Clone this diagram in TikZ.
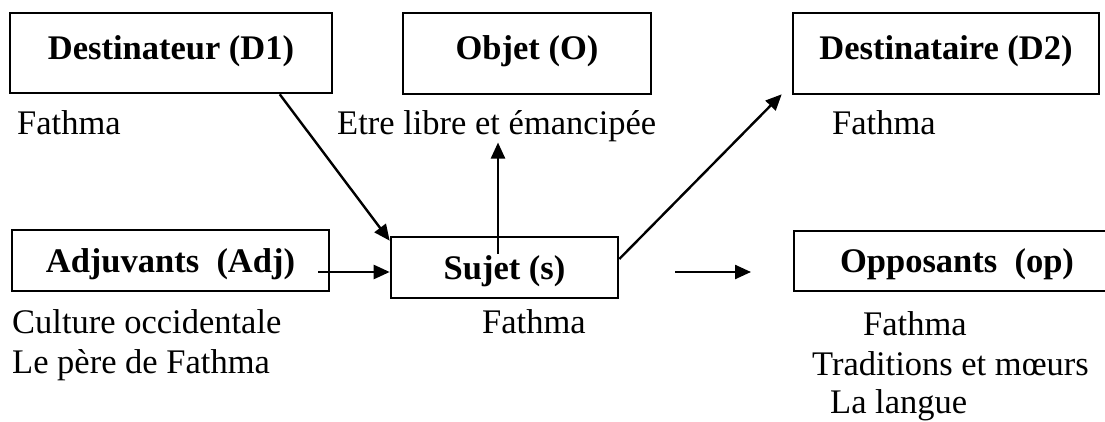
\documentclass[tikz,border=0pt]{standalone}
\usepackage{fontspec}
\setmainfont{Liberation Serif}
\usetikzlibrary{arrows.meta,calc}

\newcommand{\bodysize}{\fontsize{34.5}{40}\selectfont}

\tikzset{
  actant/.style={draw, line width=2.6pt, rectangle, inner sep=0pt,
    font=\bodysize\bfseries, text height=23pt},
  topbox/.style={actant, text depth=10pt},
  lowbox/.style={actant, text depth=0pt},
  caption/.style={inner sep=0pt, anchor=base west, font=\bodysize},
  link/.style={line width=2.4pt, -{Triangle[length=16pt,width=14pt]}}
}

\begin{document}
\begin{tikzpicture}[x=1pt, y=-1pt]
  \useasboundingbox (0,0) rectangle (1105,422);

  % actant boxes
  \node[topbox, minimum width=322pt, minimum height=80pt] (D1) at (171,53) {Destinateur (D1)};
  \node[topbox, minimum width=248pt, minimum height=81pt] (O)  at (527,53.5) {Objet (O)};
  \node[topbox, minimum width=306pt, minimum height=81pt] (D2) at (946,53.5) {Destinataire (D2)};
  \node[lowbox, minimum width=317pt, minimum height=61pt] (Adj) at (170.5,260.5) {Adjuvants\ \ (Adj)};
  \node[lowbox, minimum width=227pt, minimum height=61pt] (S)  at (504.5,267.5) {Sujet (s)};
  \node[lowbox, minimum width=326pt, minimum height=60pt] (Op) at (957,261) {Opposants\ \ (op)};

  % captions under the boxes
  \node[caption] (d1txt)  at (17,135)  {Fathma};
  \node[caption] (objtxt) at (337,135) {Etre libre et émancipée};
  \node[caption] (d2txt)  at (832,135) {Fathma};
  \node[caption] (adj1)   at (12,333)  {Culture occidentale};
  \node[caption] (adj2)   at (12,373)  {Le père de Fathma};
  \node[caption] (stxt)   at (482,333) {Fathma};
  \node[caption] (op1)    at (863,335) {Fathma};
  \node[caption] (op2)    at (812,375) {Traditions et mœurs};
  \node[caption] (op3)    at (830,413) {La langue};

  % connectors
  \draw[link] ($(D1.south west)!0.835!(D1.south east)$) -- ([yshift=-5pt]S.north west);
  \draw[link] ([xshift=-12pt,yshift=-11.5pt]Adj.east) -- ([yshift=-4.5pt]S.west);
  \coordinate (up) at ([xshift=-6.5pt,yshift=-18pt]S.north);
  \draw[link] (up) -- (up |- objtxt.south);
  \draw[link] ([yshift=8.5pt]S.east) -- ([xshift=-10pt,yshift=1pt]D2.south west);
  \coordinate (ra) at (675,272);
  \coordinate (rb) at (751,272);
  \draw[link] (ra) -- (rb);
\end{tikzpicture}
\end{document}
